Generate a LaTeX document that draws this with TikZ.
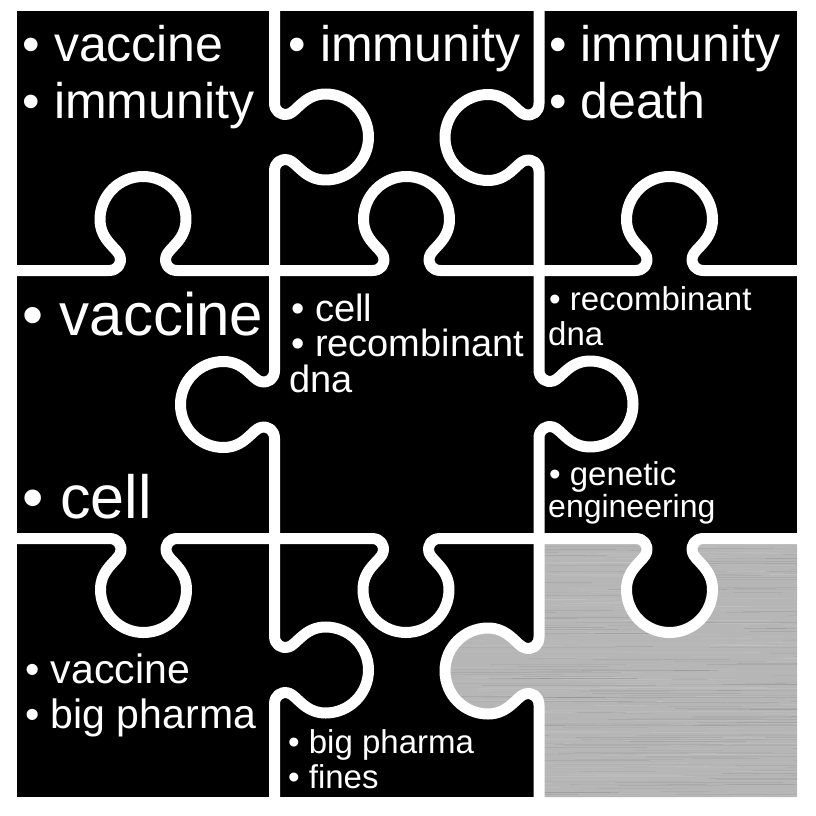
\documentclass[tikz,border=0pt]{standalone}
\usepackage{fontspec}
\setmainfont{Liberation Sans}
\definecolor{metal}{RGB}{182,182,182}
\begin{document}
\begin{tikzpicture}[x=1pt,y=-1pt,
  gap/.style={draw=white, line width=11pt, line join=round},
  hk/.style n args={3}{insert path={
    -- ({#2-34},{#1})
    .. controls ({#2-26},{#1}) and ({#2-21},{#1+6*(#3)}) .. ({#2-23},{#1+14*(#3)})
    .. controls ({#2-25},{#1+22*(#3)}) and ({#2-43},{#1+30*(#3)}) .. ({#2-43},{#1+51*(#3)})
    .. controls ({#2-43},{#1+74.75*(#3)}) and ({#2-23.75},{#1+94*(#3)}) .. ({#2},{#1+94*(#3)})
    .. controls ({#2+23.75},{#1+94*(#3)}) and ({#2+43},{#1+74.75*(#3)}) .. ({#2+43},{#1+51*(#3)})
    .. controls ({#2+43},{#1+30*(#3)}) and ({#2+25},{#1+22*(#3)}) .. ({#2+23},{#1+14*(#3)})
    .. controls ({#2+21},{#1+6*(#3)}) and ({#2+26},{#1}) .. ({#2+34},{#1})}},
  vk/.style n args={3}{insert path={
    -- ({#1},{#2-34})
    .. controls ({#1},{#2-26}) and ({#1+6*(#3)},{#2-21}) .. ({#1+14*(#3)},{#2-23})
    .. controls ({#1+22*(#3)},{#2-25}) and ({#1+30*(#3)},{#2-43}) .. ({#1+51*(#3)},{#2-43})
    .. controls ({#1+74.75*(#3)},{#2-43}) and ({#1+94*(#3)},{#2-23.75}) .. ({#1+94*(#3)},{#2})
    .. controls ({#1+94*(#3)},{#2+23.75}) and ({#1+74.75*(#3)},{#2+43}) .. ({#1+51*(#3)},{#2+43})
    .. controls ({#1+30*(#3)},{#2+43}) and ({#1+22*(#3)},{#2+25}) .. ({#1+14*(#3)},{#2+23})
    .. controls ({#1+6*(#3)},{#2+21}) and ({#1},{#2+26}) .. ({#1},{#2+34})}},
  lbl/.style={text=white, inner sep=0pt, anchor=base west}
]
% canvas
\fill[white] (0,0) rectangle (816,816);
\useasboundingbox (0,0) rectangle (816,816);
\fill[black] (17,11) rectangle (797,797);

% metal piece
\begin{scope}
  \clip (539,538.5) [hk={538.5}{669.5}{1}] -- (797,538.5) -- (797,797) -- (539,797) -- cycle
        (539,600) [vk={539}{671}{-1}] -- (539,740) -- cycle;
  \fill[metal] (420,520) rectangle (800,800);
  \pgfmathsetseed{42}
  \foreach \i in {1,...,200}{
    \pgfmathsetmacro{\yy}{536+264*rnd}
    \pgfmathsetmacro{\xx}{420+380*rnd}
    \pgfmathsetmacro{\ll}{30+170*rnd}
    \pgfmathsetmacro{\op}{0.03+0.06*rnd}
    \draw[white, opacity=\op, line width=0.9pt] (\xx,\yy) -- ++(\ll,0);
  }
  \foreach \i in {1,...,200}{
    \pgfmathsetmacro{\yy}{536+264*rnd}
    \pgfmathsetmacro{\xx}{420+380*rnd}
    \pgfmathsetmacro{\ll}{30+170*rnd}
    \pgfmathsetmacro{\op}{0.02+0.05*rnd}
    \draw[black, opacity=\op, line width=0.9pt] (\xx,\yy) -- ++(\ll,0);
  }
\end{scope}

% gaps between pieces
\draw[gap] (0,270.5) [hk={270.5}{143}{-1}] [hk={270.5}{406.5}{-1}] [hk={270.5}{669.5}{-1}] -- (816,270.5);
\draw[gap] (0,538.5) [hk={538.5}{143.5}{1}] [hk={538.5}{406}{1}] [hk={538.5}{669.5}{1}] -- (816,538.5);
\draw[gap] (274.5,0) [vk={274.5}{137}{1}] [vk={274.5}{404.5}{-1}] [vk={274.5}{670}{1}] -- (274.5,816);
\draw[gap] (539,0) [vk={539}{137.5}{-1}] [vk={539}{404}{1}] [vk={539}{671}{-1}] -- (539,816);

% texts
\node[lbl, font=\fontsize{50}{50}\selectfont] (a1) at (22.5,62) {• vaccine};
\node[lbl, font=\fontsize{50}{50}\selectfont] (a2) at (22.5,118) {• immunity};
\node[lbl, font=\fontsize{50}{50}\selectfont] (b1) at (288.5,62) {• immunity};
\node[lbl, font=\fontsize{50}{50}\selectfont] (c1) at (549,62) {• immunity};
\node[lbl, font=\fontsize{50}{50}\selectfont] (c2) at (549,118) {• death};
\node[lbl, font=\fontsize{60}{60}\selectfont] (d1) at (22,335) {• vaccine};
\node[lbl, font=\fontsize{61}{61}\selectfont] (d2) at (22,518) {• cell};
\node[lbl, font=\fontsize{38}{38}\selectfont] (e1) at (291,321) {• cell};
\node[lbl, font=\fontsize{38}{38}\selectfont] (e2) at (291,356) {• recombinant};
\node[lbl, font=\fontsize{38}{38}\selectfont] (e3) at (289,392) {dna};
\node[lbl, font=\fontsize{33}{33}\selectfont] (f1) at (549,310) {• recombinant};
\node[lbl, font=\fontsize{33}{33}\selectfont] (f2) at (548,345) {dna};
\node[lbl, font=\fontsize{33}{33}\selectfont] (f3) at (549,485) {• genetic};
\node[lbl, font=\fontsize{32}{32}\selectfont] (f4) at (548,517) {engineering};
\node[lbl, font=\fontsize{41}{41}\selectfont] (g1) at (25,683) {• vaccine};
\node[lbl, font=\fontsize{41}{41}\selectfont] (g2) at (25,728) {• big pharma};
\node[lbl, font=\fontsize{33}{33}\selectfont] (h1) at (288,753) {• big pharma};
\node[lbl, font=\fontsize{33}{33}\selectfont] (h2) at (288,788) {• fines};
\end{tikzpicture}
\end{document}
